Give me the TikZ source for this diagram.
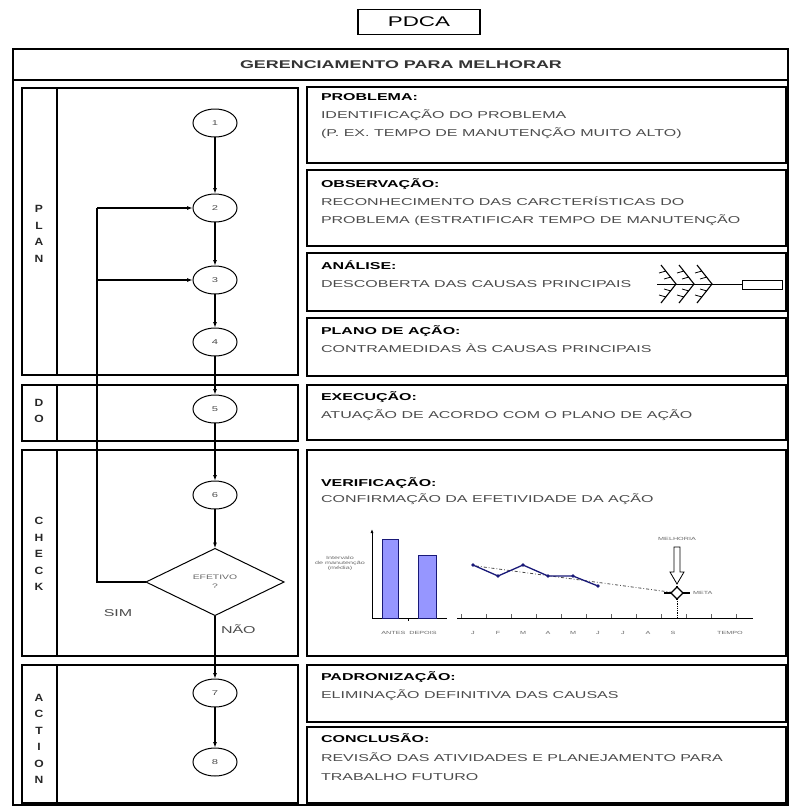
\documentclass[tikz,border=0pt]{standalone}
\usepackage{fontspec}
\setmainfont[FakeStretch=1.6]{Liberation Sans}
\newfontfamily\lettersfont[FakeStretch=1.15]{Liberation Sans}
\usetikzlibrary{shapes.geometric,arrows.meta}
\definecolor{navy}{RGB}{25,25,120}
\definecolor{barfill}{RGB}{150,150,255}

\begin{document}
\begin{tikzpicture}[x=1pt,y=-1pt]
\tikzstyle{every node}=[inner sep=0pt, outer sep=0pt];
\tikzstyle{panel}=[draw, line width=1.3pt];
\tikzstyle{stepbox}=[draw, line width=1.8pt];
\tikzstyle{txt}=[anchor=north west, align=left, font=\fontsize{10}{18}\selectfont, text=black!70];
\tikzstyle{stage}=[draw, ellipse, line width=1pt, minimum width=44pt, minimum height=28pt, font=\fontsize{7}{8}\selectfont, text=black!70];
\tikzstyle{flow}=[line width=1.2pt, -{Latex[length=6pt,width=4pt]}];
\tikzstyle{vert}=[align=center, font=\lettersfont\bfseries\fontsize{10.5}{16.5}\selectfont, text=black!85];
\tikzstyle{tiny}=[font=\fontsize{4.5}{5}\selectfont, text=black!60];
\useasboundingbox (0,0) rectangle (790,807);

% title
\node[draw, line width=1.3pt, minimum width=122pt, minimum height=25pt, font=\fontsize{14}{14}\selectfont] (pdca) at (419,22) {PDCA};
\draw[line width=2pt] (13,49) rectangle (788,805);
\draw[line width=1.5pt] (13,80) -- (788,80);
\node[font=\bfseries\fontsize{11.2}{12}\selectfont, text=black!80] (head) at (401,65) {GERENCIAMENTO PARA MELHORAR};

% left panels
\draw[panel] (22,88) rectangle (298,375);
\draw[panel] (57,88) -- (57,375);
\draw[panel] (22,385) rectangle (298,441);
\draw[panel] (57,385) -- (57,441);
\draw[panel] (22,450) rectangle (298,656);
\draw[panel] (57,450) -- (57,656);
\draw[panel] (22,665) rectangle (298,803);
\draw[panel] (57,665) -- (57,803);
\node[vert] (lplan) at (39,234) {P\\L\\A\\N};
\node[vert] (ldo) at (39,411) {D\\O};
\node[vert] (lcheck) at (39,554) {C\\H\\E\\C\\K};
\node[vert] (laction) at (39,739) {A\\C\\T\\I\\O\\N};

% right boxes
\draw[stepbox] (307,87) rectangle (786,163);
\draw[stepbox] (307,170) rectangle (786,246);
\draw[stepbox] (307,253) rectangle (786,311);
\draw[stepbox] (307,318) rectangle (786,376);
\draw[stepbox] (307,385) rectangle (786,440);
\draw[stepbox] (307,450) rectangle (786,656);
\draw[stepbox] (307,665) rectangle (786,722);
\draw[stepbox] (307,727) rectangle (786,803);

\node[txt] (tprob) at (321,90.6) {\rule{0pt}{10pt}{\color{black}\bfseries PROBLEMA:}\\IDENTIFICAÇÃO DO PROBLEMA\\(P. EX. TEMPO DE MANUTENÇÃO MUITO ALTO)};
\node[txt] (tobs) at (321,177.6) {\rule{0pt}{10pt}{\color{black}\bfseries OBSERVAÇÃO:}\\RECONHECIMENTO DAS CARCTERÍSTICAS DO\\PROBLEMA (ESTRATIFICAR TEMPO DE MANUTENÇÃO};
\node[txt] (tana) at (321,259.6) {\rule{0pt}{10pt}{\color{black}\bfseries ANÁLISE:}\\DESCOBERTA DAS CAUSAS PRINCIPAIS};
\node[txt] (tplano) at (321,324.6) {\rule{0pt}{10pt}{\color{black}\bfseries PLANO DE AÇÃO:}\\CONTRAMEDIDAS ÀS CAUSAS PRINCIPAIS};
\node[txt] (texec) at (321,390.6) {\rule{0pt}{10pt}{\color{black}\bfseries EXECUÇÃO:}\\ATUAÇÃO DE ACORDO COM O PLANO DE AÇÃO};
\node[txt, font=\fontsize{10}{16}\selectfont] (tverif) at (321,476.6) {\rule{0pt}{10pt}{\color{black}\bfseries VERIFICAÇÃO:}\\CONFIRMAÇÃO DA EFETIVIDADE DA AÇÃO};
\node[txt] (tpad) at (321,670) {\rule{0pt}{10pt}{\color{black}\bfseries PADRONIZAÇÃO:}\\ELIMINAÇÃO DEFINITIVA DAS CAUSAS};
\node[txt, font=\fontsize{10}{19}\selectfont] (tconc) at (321,732) {\rule{0pt}{10pt}{\color{black}\bfseries CONCLUSÃO:}\\REVISÃO DAS ATIVIDADES E PLANEJAMENTO PARA\\TRABALHO FUTURO};

% fishbone
\draw[line width=1pt] (657,284) -- (742,284);
\draw[line width=1pt] (742,280) rectangle (782,289);
\foreach \t in {676,694,712} {
  \draw[line width=1.1pt] (\t-15,265) -- (\t,284) -- (\t-15,303);
  \draw[line width=0.8pt] (\t-10,271) -- (\t-17,273) (\t-5,277) -- (\t-12,279)
    (\t-10,297) -- (\t-17,295) (\t-5,291) -- (\t-12,289);
}

% flow
\node[stage] (s1) at (215,123) {1};
\node[stage] (s2) at (215,208) {2};
\node[stage] (s3) at (215,280) {3};
\node[stage] (s4) at (215,342) {4};
\node[stage] (s5) at (215,409) {5};
\node[stage] (s6) at (215,495) {6};
\node[draw, diamond, aspect=2, line width=1pt, minimum width=138pt, minimum height=67pt, align=center, font=\fontsize{6.5}{9}\selectfont, text=black!60] (dec) at (215,582) {EFETIVO\\?};
\node[stage] (s7) at (215,693) {7};
\node[stage] (s8) at (215,762) {8};
\draw[flow] (s1) -- (s2);
\draw[flow] (s2) -- (s3);
\draw[flow] (s3) -- (s4);
\draw[flow] (s4) -- (s5);
\draw[flow] (s5) -- (s6);
\draw[flow] (s6) -- (dec);
\draw[flow] (dec) -- (s7);
\draw[flow] (s7) -- (s8);
\coordinate (lb) at (97,582);
\coordinate (lt) at (97,208);
\coordinate (lm) at (97,280);
\draw[line width=1.2pt] (dec.west) -- (lb) -- (lt);
\draw[flow] (lt) -- (s2);
\draw[flow] (lm) -- (s3);
\node[font=\fontsize{10}{10}\selectfont, text=black!70] (sim) at (118,613) {SIM};
\node[anchor=west, font=\fontsize{10}{10}\selectfont, text=black!70] (nao) at (221,629) {NÃO};

% bar chart
\draw[line width=1pt, -{Latex[length=4pt,width=3pt]}] (372,618) -- (372,529);
\draw[line width=1pt] (372,618) -- (447,618);
\draw[line width=0.6pt] (408,618) -- (408,621);
\draw[navy, fill=barfill, line width=0.8pt] (382,539) rectangle (398,618);
\draw[navy, fill=barfill, line width=0.8pt] (418,555) rectangle (436,618);
\node[tiny, align=center] (bary) at (340,563) {Intervalo\\de manutenção\\(média)};
\node[tiny] (barx) at (409,633) {ANTES\ \ DEPOIS};

% line chart
\draw[line width=1pt] (457,618) -- (753,618);
\foreach \i in {0,...,11} \draw[line width=0.5pt, black!60] (461+25*\i,614) -- (461+25*\i,618);
\foreach \m [count=\i from 0] in {J,F,M,A,M,J,J,A,S} \node[tiny] (m\i) at (473+25*\i,633) {\m};
\node[tiny] (tempo) at (730,633) {TEMPO};
\draw[black!70, line width=0.8pt, dash dot] (476,566) -- (677,593);
\draw[navy, line width=1.3pt] (473,565) -- (498,576) -- (523,565) -- (548,576) -- (573,576) -- (598,586);
\foreach \x/\y in {473/565,498/576,523/565,548/576,573/576,598/586} \fill[navy] (\x,\y) circle (1.8);
\draw[line width=0.8pt, densely dotted] (677,599) -- (677,618);
\draw[line width=1.4pt] (664,593) -- (671,593) (683,593) -- (690,593) (677,586) -- (677,600);
\draw[line width=1.2pt, fill=white] (677,587) -- (683,593) -- (677,599) -- (671,593) -- cycle;
\draw[line width=0.8pt, fill=white] (674,547) -- (680,547) -- (680,572) -- (684,572) -- (677,584) -- (670,572) -- (674,572) -- cycle;
\node[tiny] (melh) at (677,539) {MELHORIA};
\node[tiny, anchor=west] (meta) at (693,593) {META};
\end{tikzpicture}
\end{document}
